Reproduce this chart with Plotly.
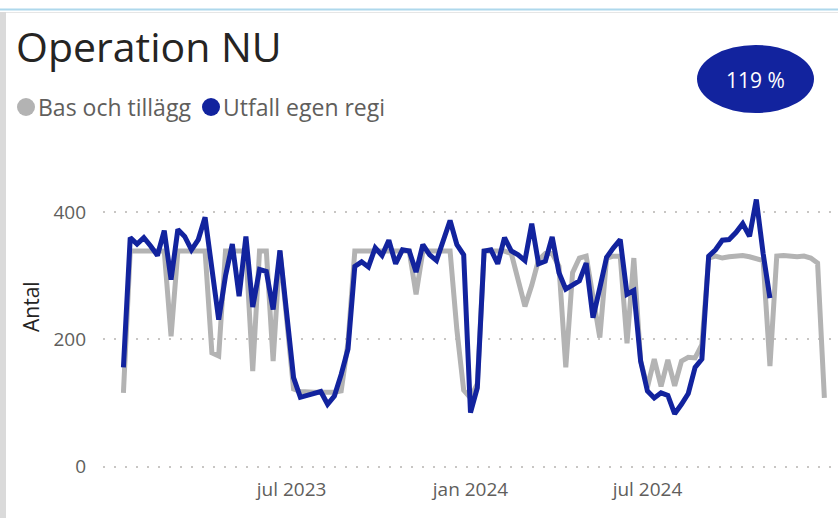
import pandas as pd
import plotly.graph_objects as go

# ---------------- data ----------------
start_week = "2023-01-09"

bas_och_tillagg = [116, 339, 339, 339, 339, 339, 339, 205, 339, 339, 339, 339, 339, 179, 174, 339,
                   339, 339, 339, 150, 339, 339, 166, 339, 225, 122, 118, 117, 117, 117, 117, 117,
                   119, 195, 339, 339, 339, 339, 339, 339, 339, 339, 339, 271, 339, 339, 339, 339,
                   339, 215, 120, 108, 130, 339, 339, 339, 339, 335, 292, 252, 285, 325, 335, 335,
                   315, 156, 305, 328, 331, 265, 203, 328, 331, 331, 194, 328, 166, 125, 169, 126,
                   168, 127, 166, 172, 171, 192, 328, 331, 328, 330, 331, 332, 330, 326, 324, 158,
                   331, 332, 331, 330, 331, 328, 320, 108]

utfall_egen_regi = [156, 360, 350, 360, 347, 332, 371, 294, 373, 362, 341, 357, 392, 313, 231, 300,
                    350, 268, 362, 251, 310, 307, 247, 340, 230, 140, 109, 112, 113, 118, 98, 111,
                    145, 185, 315, 322, 314, 344, 332, 356, 319, 341, 339, 306, 349, 333, 324, 357,
                    387, 349, 333, 85, 124, 339, 341, 319, 360, 339, 333, 324, 382, 319, 323, 361,
                    305, 279, 286, 292, 320, 234, 281, 329, 344, 357, 271, 277, 166, 119, 108, 116,
                    112, 83, 98, 115, 156, 169, 331, 341, 356, 357, 368, 382, 362, 420, 335, 265]

series_names = ["Bas och tillägg", "Utfall egen regi"]
x_tick_dates = ["2023-07-01", "2024-01-01", "2024-07-01"]
x_tick_labels = ["jul 2023", "jan 2024", "jul 2024"]
y_ticks = [0, 200, 400]
title_text = "Operation NU"
kpi_text = "119 %"
y_title = "Antal"

dates_bas = pd.date_range(start_week, periods=len(bas_och_tillagg), freq="7D")
dates_utf = pd.date_range(start_week, periods=len(utfall_egen_regi), freq="7D")

# ---------------- layout geometry ----------------
W, H = 838, 518
ML, MR, MT, MB = 103, 0, 190, 50
PW, PH = W - ML - MR, H - MT - MB


def px_x(p):
    return (p - ML) / PW


def px_y(p):
    return (H - MB - p) / PH


GREY = "#B3B3B3"
BLUE = "#12239E"
TXT = "#605E5C"
DARK = "#252423"
FONT = "Open Sans"

fig = go.Figure()
fig.add_trace(go.Scatter(x=dates_bas, y=bas_och_tillagg, mode="lines", name=series_names[0],
                         line=dict(color=GREY, width=5), showlegend=False, hoverinfo="skip"))
fig.add_trace(go.Scatter(x=dates_utf, y=utfall_egen_regi, mode="lines", name=series_names[1],
                         line=dict(color=BLUE, width=5), showlegend=False, hoverinfo="skip"))

shapes = [
    # top accent line and card border
    dict(type="line", xref="paper", yref="paper", x0=px_x(0), x1=px_x(W), y0=px_y(9.5), y1=px_y(9.5),
         line=dict(color="#AED8EC", width=2)),
    dict(type="line", xref="paper", yref="paper", x0=px_x(0), x1=px_x(W), y0=px_y(12.5), y1=px_y(12.5),
         line=dict(color="#E6E6E6", width=1)),
    dict(type="rect", xref="paper", yref="paper", x0=px_x(0), x1=px_x(6), y0=px_y(H), y1=px_y(12),
         fillcolor="#DADADA", line=dict(width=0)),
    # legend dots
    dict(type="circle", xref="paper", yref="paper", x0=px_x(17), x1=px_x(35), y0=px_y(116), y1=px_y(98),
         fillcolor=GREY, line=dict(width=0)),
    dict(type="circle", xref="paper", yref="paper", x0=px_x(202), x1=px_x(220), y0=px_y(116), y1=px_y(98),
         fillcolor=BLUE, line=dict(width=0)),
    # KPI badge
    dict(type="circle", xref="paper", yref="paper", x0=px_x(697), x1=px_x(814), y0=px_y(113), y1=px_y(45),
         fillcolor=BLUE, line=dict(width=0)),
]

annotations = [
    dict(text=title_text, xref="paper", yref="paper", x=px_x(14), y=px_y(46), xanchor="left",
         yanchor="middle", showarrow=False, font=dict(family=FONT, size=41, color=DARK)),
    dict(text=series_names[0], xref="paper", yref="paper", x=px_x(36), y=px_y(107), xanchor="left",
         yanchor="middle", showarrow=False, font=dict(family=FONT, size=23, color=TXT)),
    dict(text=series_names[1], xref="paper", yref="paper", x=px_x(221), y=px_y(107), xanchor="left",
         yanchor="middle", showarrow=False, font=dict(family=FONT, size=23, color=TXT)),
    dict(text=kpi_text, xref="paper", yref="paper", x=px_x(755.5), y=px_y(80), xanchor="center",
         yanchor="middle", showarrow=False, font=dict(family=FONT, size=21, color="white")),
    dict(text=y_title, xref="paper", yref="paper", x=px_x(31), y=px_y(307), xanchor="center",
         yanchor="middle", textangle=-90, showarrow=False, font=dict(family=FONT, size=21, color=DARK)),
]

fig.update_layout(
    width=W, height=H,
    margin=dict(l=ML, r=MR, t=MT, b=MB, pad=0),
    paper_bgcolor="white", plot_bgcolor="white",
    shapes=shapes, annotations=annotations,
    showlegend=False,
    xaxis=dict(range=["2022-12-19", "2025-01-13"], tickvals=x_tick_dates, ticktext=x_tick_labels,
               showgrid=False, zeroline=False, showline=False, ticks="",
               tickfont=dict(family=FONT, size=19, color=TXT), ticklabelstandoff=8),
    yaxis=dict(range=[-2.2, 435], tickvals=y_ticks, showgrid=True, gridcolor="#C8C6C4",
               griddash="2px,9px", gridwidth=1.5, zeroline=False, showline=False, ticks="",
               tickfont=dict(family=FONT, size=19, color=TXT), ticklabelstandoff=16),
)

fig.write_html("out.html", config={"displayModeBar": False},
               post_script="document.body.style.margin='0';document.body.style.padding='0';")
